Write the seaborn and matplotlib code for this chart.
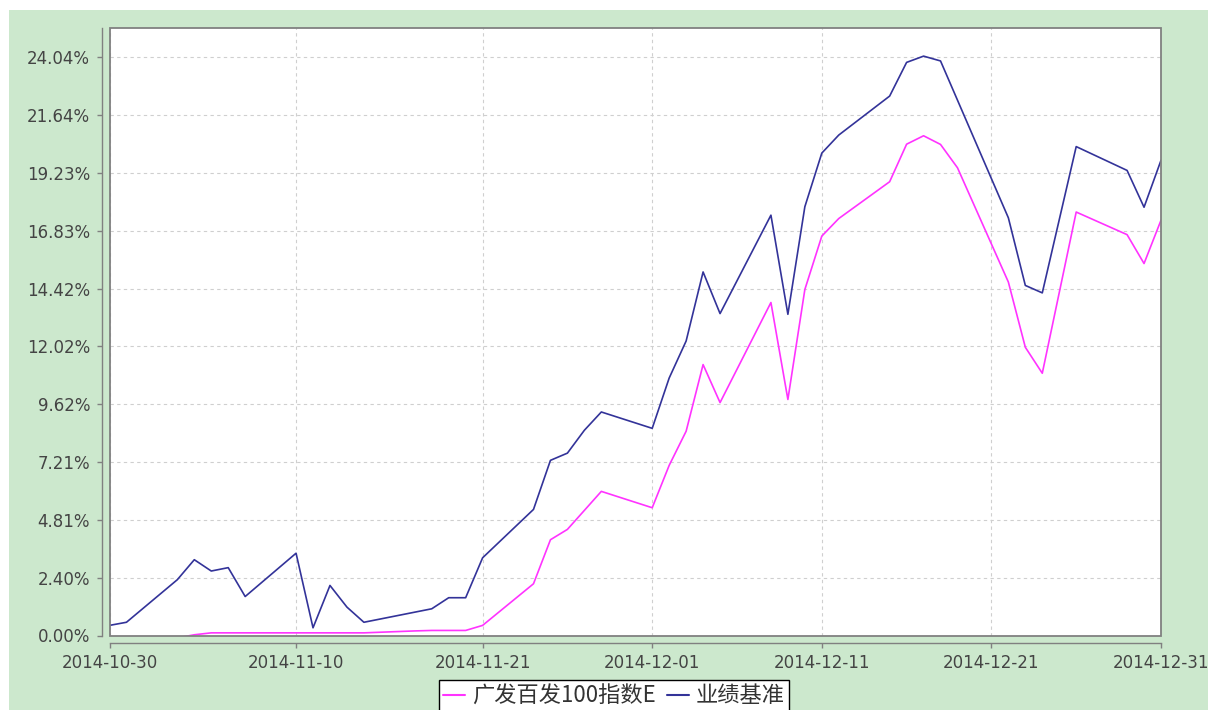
import matplotlib
matplotlib.use('Agg')
import matplotlib.pyplot as plt
from matplotlib.patches import Rectangle
from matplotlib.lines import Line2D
import pandas as pd
import seaborn as sns

# Trading days shown in the chart
dates = ['2014-10-30', '2014-10-31', '2014-11-03', '2014-11-04', '2014-11-05',
         '2014-11-06', '2014-11-07', '2014-11-10', '2014-11-11', '2014-11-12',
         '2014-11-13', '2014-11-14', '2014-11-17', '2014-11-18', '2014-11-19',
         '2014-11-20', '2014-11-21', '2014-11-24', '2014-11-25', '2014-11-26',
         '2014-11-27', '2014-11-28', '2014-12-01', '2014-12-02', '2014-12-03',
         '2014-12-04', '2014-12-05', '2014-12-08', '2014-12-09', '2014-12-10',
         '2014-12-11', '2014-12-12', '2014-12-15', '2014-12-16', '2014-12-17',
         '2014-12-18', '2014-12-19', '2014-12-22', '2014-12-23', '2014-12-24',
         '2014-12-26', '2014-12-29', '2014-12-30', '2014-12-31']

# Cumulative return (%) of the fund
fund_returns = [-0.10, -0.10, -0.10, 0.03, 0.11,
                0.11, 0.11, 0.11, 0.11, 0.11,
                0.11, 0.11, 0.19, 0.21, 0.21,
                0.21, 0.42, 2.15, 3.98, 4.41,
                5.20, 5.99, 5.31, 7.07, 8.49,
                11.26, 9.68, 13.84, 9.81, 14.38,
                16.60, 17.33, 18.86, 20.42, 20.77,
                20.41, 19.44, 14.69, 11.98, 10.90,
                17.60, 16.66, 15.46, 17.26]

# Cumulative return (%) of the benchmark
benchmark_returns = [0.42, 0.55, 2.32, 3.15, 2.68,
                     2.82, 1.62, 3.42, 0.32, 2.08,
                     1.18, 0.55, 0.97, 1.11, 1.57,
                     1.57, 3.23, 5.24, 7.28, 7.58,
                     8.53, 9.29, 8.61, 10.70, 12.24,
                     15.11, 13.38, 17.47, 13.35, 17.82,
                     20.05, 20.80, 22.42, 23.82, 24.08,
                     23.88, 22.25, 17.36, 14.55, 14.24,
                     20.32, 19.33, 17.80, 19.75]

series_names = ['广发百发100指数E', '业绩基准']
series_colors = ['#ff33ff', '#333399']

x_ticks = ['2014-10-30', '2014-11-10', '2014-11-21', '2014-12-01',
           '2014-12-11', '2014-12-21', '2014-12-31']
y_ticks = ['0.00%', '2.40%', '4.81%', '7.21%', '9.62%', '12.02%',
           '14.42%', '16.83%', '19.23%', '21.64%', '24.04%']

n = len(dates)
df = pd.DataFrame({
    'date': pd.to_datetime(dates * 2),
    'value': fund_returns + benchmark_returns,
    'series': [series_names[0]] * n + [series_names[1]] * n,
})

sns.set_style('white')
plt.rcParams['font.family'] = ['DejaVu Sans', 'Noto Sans CJK SC']

bg_green = '#cce8cd'
axis_gray = '#808080'

fig = plt.figure(figsize=(12.08, 7.10), dpi=100)
fig.patch.set_facecolor('white')
fig.patches.append(Rectangle((9 / 1208, 0), 1, 700 / 710, transform=fig.transFigure,
                             facecolor=bg_green, edgecolor='none', zorder=-10))

ax = fig.add_axes([109.5 / 1208, 74.5 / 710, 1051.5 / 1208, 608 / 710])
ax.set_facecolor('white')

sns.lineplot(data=df, x='date', y='value', hue='series',
             palette=dict(zip(series_names, series_colors)),
             estimator=None, sort=False, linewidth=1.2, legend=False, ax=ax)

ax.set_xlim(pd.Timestamp('2014-10-30'), pd.Timestamp('2014-12-31'))
ax.set_ylim(0, 25.27)
ax.set_xticks(pd.to_datetime(x_ticks))
ax.set_xticklabels(x_ticks)
ax.set_yticks([float(t.rstrip('%')) for t in y_ticks])
ax.set_yticklabels(y_ticks)
ax.set_xlabel('')
ax.set_ylabel('')

ax.grid(True, color='#cfcfcf', linestyle=(0, (3, 3)), linewidth=0.8)

# Offset axis lines like the original, plus a frame round the plot area
for side in ['top', 'right']:
    ax.spines[side].set_visible(False)
for side in ['left', 'bottom']:
    ax.spines[side].set_position(('outward', 5.5))
    ax.spines[side].set_color(axis_gray)
    ax.spines[side].set_linewidth(1.0)
ax.add_patch(Rectangle((0, 0), 1, 1, transform=ax.transAxes, fill=False,
                       edgecolor=axis_gray, linewidth=1.3, zorder=5, clip_on=False))

ax.tick_params(axis='both', bottom=True, left=True, direction='out', length=3.5,
               width=1, color=axis_gray, labelsize=12, labelcolor='#444444')
ax.tick_params(axis='y', pad=5)
ax.tick_params(axis='x', pad=4)

handles = [Line2D([], [], color=c, linewidth=1.5) for c in series_colors]
leg = fig.legend(handles, series_names, loc='upper center',
                 bbox_to_anchor=(614 / 1208, 30 / 710), ncol=2,
                 frameon=True, fancybox=False, edgecolor='black', facecolor='white',
                 framealpha=1, handlelength=1.0, handletextpad=0.3,
                 columnspacing=0.5, borderpad=0.2, borderaxespad=0,
                 prop={'family': ['Noto Sans CJK SC', 'DejaVu Sans'], 'size': 16})
leg.get_frame().set_linewidth(1.0)
for text in leg.get_texts():
    text.set_color('#333333')

fig.savefig('out.png', dpi=100)
plt.close()
